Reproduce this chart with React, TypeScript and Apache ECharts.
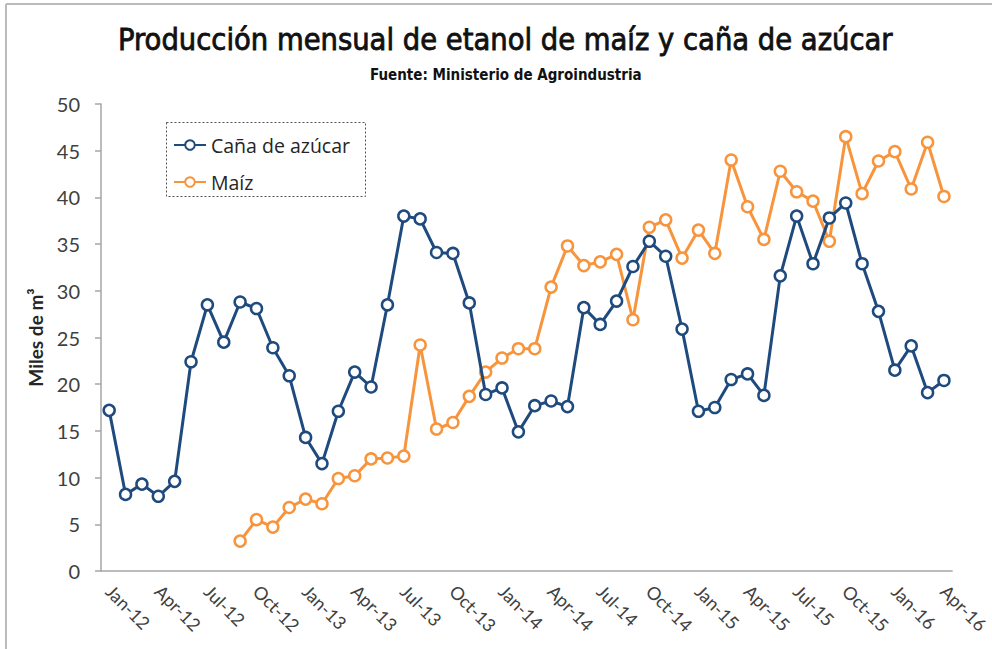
import React, { useEffect, useRef } from "react";
import * as echarts from "echarts";

const months: string[] = [];
const monthNames = ["Jan", "Feb", "Mar", "Apr", "May", "Jun", "Jul", "Aug", "Sep", "Oct", "Nov", "Dec"];
for (let y = 12; y <= 16; y++) {
  for (let m = 0; m < 12; m++) {
    if (y === 16 && m > 3) break;
    months.push(`${monthNames[m]}-${y}`);
  }
}

const cana: number[] = [
  17.2, 8.2, 9.3, 8.0, 9.6, 22.4, 28.5, 24.5, 28.8, 28.1, 23.9, 20.9,
  14.3, 11.5, 17.1, 21.3, 19.7, 28.5, 38.0, 37.7, 34.1, 34.0, 28.7, 18.9,
  19.6, 14.9, 17.7, 18.2, 17.6, 28.2, 26.4, 28.9, 32.6, 35.3, 33.7, 25.9,
  17.1, 17.5, 20.5, 21.1, 18.8, 31.6, 38.0, 32.9, 37.8, 39.4, 32.9, 27.8,
  21.5, 24.1, 19.1, 20.4,
];

const maiz: (number | null)[] = [
  null, null, null, null, null, null, null, null, 3.2, 5.5, 4.7, 6.8,
  7.7, 7.2, 9.9, 10.2, 12.0, 12.1, 12.3, 24.2, 15.2, 15.9, 18.7, 21.3,
  22.8, 23.8, 23.8, 30.4, 34.8, 32.7, 33.1, 33.9, 26.9, 36.8, 37.6, 33.5,
  36.5, 34.0, 44.0, 39.0, 35.5, 42.8, 40.6, 39.6, 35.3, 46.5, 40.4, 43.9,
  44.9, 40.9, 45.9, 40.1,
];

const BLUE = "#1F4A7E";
const ORANGE = "#F7943C";
const FONT = "Lato, 'Open Sans', sans-serif";
const LEGEND_FONT = "'Open Sans', Lato, sans-serif";
const COND = "'Liberation Sans Narrow', 'DejaVu Sans Condensed', 'Roboto Condensed', sans-serif";

export default function App() {
  const ref = useRef<HTMLDivElement>(null);
  useEffect(() => {
    document.body.style.margin = "0";
    const chart = echarts.init(ref.current!, undefined, { renderer: "svg" });
    chart.setOption({
      animation: false,
      backgroundColor: "#fff",
      title: [
        {
          text: "Producción mensual de etanol de maíz y caña de azúcar",
          left: 113,
          top: 19,
          textStyle: {
            fontFamily: COND,
            fontSize: 30.5,
            fontWeight: "normal",
            color: "#111",
            textBorderColor: "#111",
            textBorderWidth: 0.8,
          },
        },
        {
          text: "Fuente: Ministerio de Agroindustria",
          left: 365,
          top: 62,
          textStyle: { fontFamily: COND, fontSize: 15, fontWeight: "bold", color: "#111" },
        },
      ],
      graphic: [
        { type: "line", shape: { x1: 6, y1: 4, x2: 992, y2: 4 }, style: { stroke: "#bbb", lineWidth: 2 } },
        { type: "line", shape: { x1: 6, y1: 4, x2: 6, y2: 649 }, style: { stroke: "#bbb", lineWidth: 2 } },
        {
          type: "rect",
          shape: { x: 166.5, y: 122.5, width: 199, height: 74 },
          style: { fill: "none", stroke: "#555", lineWidth: 1, lineDash: [2, 2] },
          z: 10,
        },
      ],
      legend: {
        orient: "vertical",
        left: 168,
        top: 129,
        itemWidth: 32,
        itemHeight: 12,
        itemGap: 15,
        textStyle: { fontFamily: LEGEND_FONT, fontSize: 19.5, color: "#262626", lineHeight: 22 },
        data: ["Caña de azúcar", "Maíz"],
      },
      grid: { left: 101, right: 37, top: 104, bottom: 78, containLabel: false },
      xAxis: {
        type: "category",
        data: months,
        boundaryGap: true,
        axisLine: { lineStyle: { color: "#a6a6a6", width: 1.5 } },
        axisTick: { interval: 2, length: 6, lineStyle: { color: "#a6a6a6", width: 1.5 } },
        axisLabel: {
          interval: 2,
          rotate: -45,
          fontFamily: FONT,
          fontSize: 18,
          color: "#404040",
          margin: 17,
        },
      },
      yAxis: {
        type: "value",
        min: 0,
        max: 50,
        interval: 5,
        name: "Miles de m³",
        nameLocation: "middle",
        nameGap: 56,
        nameTextStyle: { fontFamily: FONT, fontSize: 19, fontWeight: "bold", color: "#262626" },
        axisLine: { show: true, lineStyle: { color: "#a6a6a6", width: 1.5 } },
        axisTick: { show: true, length: 6, lineStyle: { color: "#a6a6a6", width: 1.5 } },
        splitLine: { show: false },
        axisLabel: { fontFamily: FONT, fontSize: 20, color: "#404040", margin: 21 },
      },
      series: [
        {
          name: "Caña de azúcar",
          type: "line",
          data: cana,
          color: BLUE,
          symbol: "circle",
          symbolSize: 11,
          showAllSymbol: true,
          lineStyle: { color: BLUE, width: 3 },
          itemStyle: { color: "#fff", borderColor: BLUE, borderWidth: 2.5 },
          z: 3,
        },
        {
          name: "Maíz",
          type: "line",
          data: maiz,
          color: ORANGE,
          symbol: "circle",
          symbolSize: 11,
          showAllSymbol: true,
          lineStyle: { color: ORANGE, width: 3 },
          itemStyle: { color: "#fff", borderColor: ORANGE, borderWidth: 2.5 },
          z: 2,
        },
      ],
    });
    return () => chart.dispose();
  }, []);
  return <div ref={ref} style={{ width: 992, height: 649 }} />;
}
